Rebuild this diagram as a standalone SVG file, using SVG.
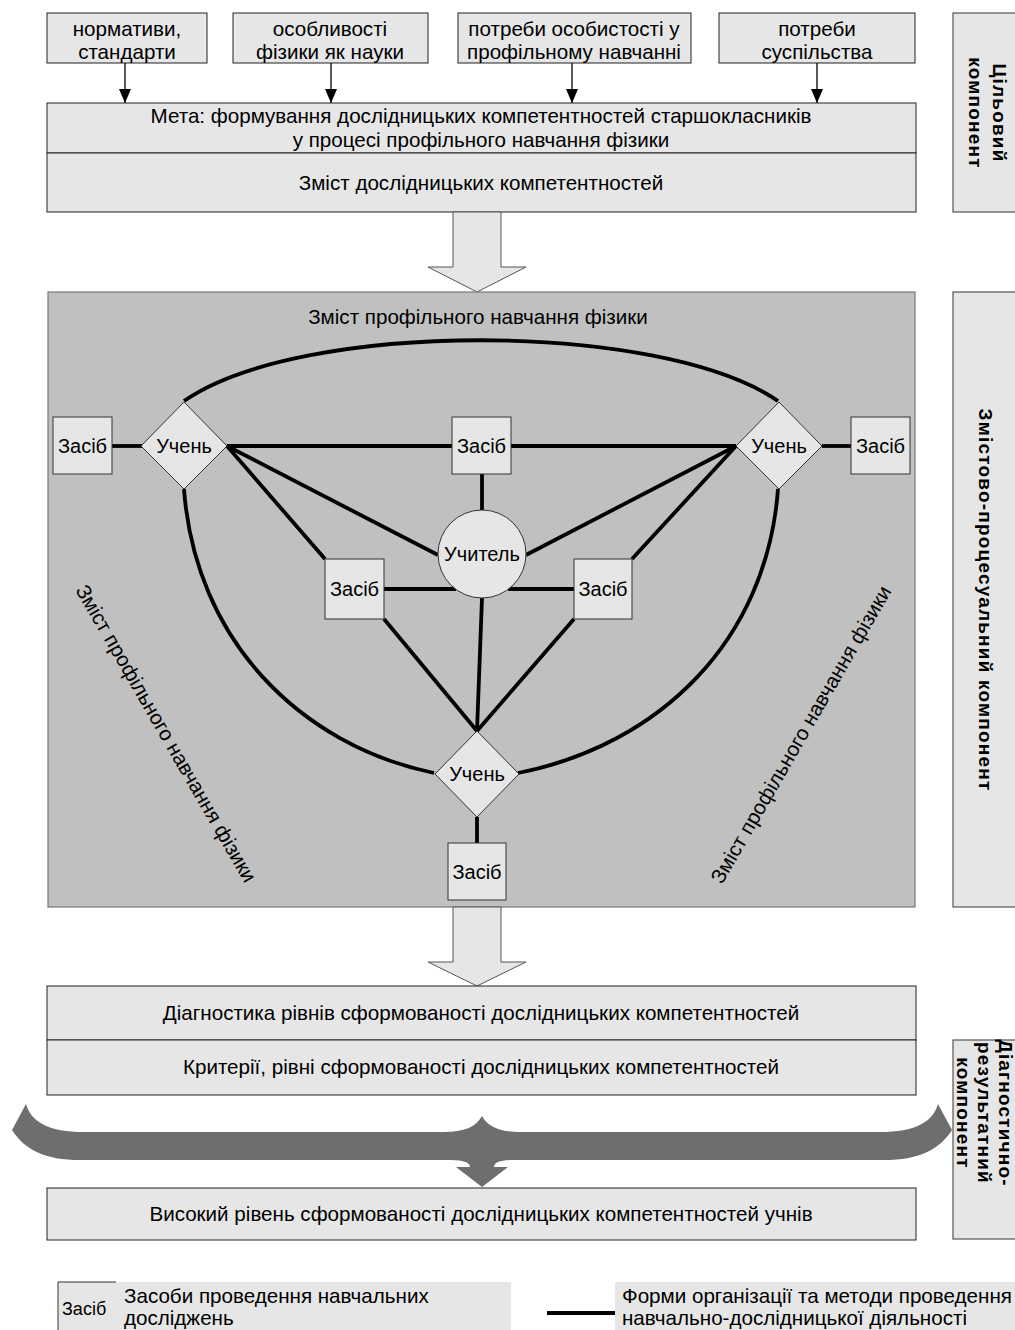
<svg xmlns="http://www.w3.org/2000/svg" width="1015" height="1330" viewBox="0 0 1015 1330">
<style>
text{font-family:"Liberation Sans",Arial,sans-serif;font-size:20.6px;fill:#000}
.c{text-anchor:middle}
.n{font-size:20px}
.box{fill:#e6e6e6;stroke:#222;stroke-width:1}
.lbl{fill:#e6e6e6;stroke:#555;stroke-width:1.2}
.lb{font-weight:bold;font-size:19px;letter-spacing:1.2px;text-anchor:middle}
.node{fill:#e6e6e6;stroke:#333;stroke-width:1}
.e{fill:none;stroke:#000;stroke-width:3.8}
.thin{fill:none;stroke:#000;stroke-width:1.3}
.blk{fill:#e6e6e6;stroke:#555;stroke-width:1}
</style>
<defs>
<marker id="ah" viewBox="0 0 14 12" refX="14" refY="6" markerWidth="14" markerHeight="12" markerUnits="userSpaceOnUse" orient="auto">
<path d="M0,0 L14,6 L0,12 Z" fill="#000"/>
</marker>
</defs>
<rect width="1015" height="1330" fill="#fff"/>

<!-- right side labels -->
<g id="label-goal">
<rect class="lbl" x="953" y="13" width="80" height="199"/>
<text class="lb" transform="translate(993,113) rotate(90)">Цільовий</text>
<text class="lb" transform="translate(969,113) rotate(90)">компонент</text>
</g>
<g id="label-content">
<rect class="lbl" x="953" y="292" width="80" height="615"/>
<text class="lb" transform="translate(979,600) rotate(90)">Змістово-процесуальний компонент</text>
</g>
<g id="label-diag">
<rect class="lbl" x="953" y="1040" width="80" height="199"/>
<text class="lb" transform="translate(999,1113) rotate(90)">Діагностично-</text>
<text class="lb" transform="translate(978,1113) rotate(90)">результатний</text>
<text class="lb" transform="translate(957,1113) rotate(90)">компонент</text>
</g>

<!-- top input boxes -->
<g id="in1"><rect class="box" x="47" y="13" width="160" height="50"/>
<text class="c" x="127" y="36">нормативи,</text><text class="c" x="127" y="59">стандарти</text></g>
<g id="in2"><rect class="box" x="233" y="13" width="195" height="50"/>
<text class="c" x="330" y="36">особливості</text><text class="c" x="330" y="59">фізики як науки</text></g>
<g id="in3"><rect class="box" x="458" y="13" width="233" height="50"/>
<text class="c" x="574" y="36">потреби особистості у</text><text class="c" x="574" y="59">профільному навчанні</text></g>
<g id="in4"><rect class="box" x="719" y="13" width="196" height="50"/>
<text class="c" x="817" y="36">потреби</text><text class="c" x="817" y="59">суспільства</text></g>

<g id="top-arrows">
<line class="thin" x1="125" y1="63" x2="125" y2="103" marker-end="url(#ah)"/>
<line class="thin" x1="331" y1="63" x2="331" y2="103" marker-end="url(#ah)"/>
<line class="thin" x1="572" y1="63" x2="572" y2="103" marker-end="url(#ah)"/>
<line class="thin" x1="817" y1="63" x2="817" y2="103" marker-end="url(#ah)"/>
</g>

<g id="goal">
<rect class="box" x="47" y="103" width="869" height="50"/>
<text class="c" x="481" y="123">Мета: формування дослідницьких компетентностей старшокласників</text>
<text class="c" x="481" y="147">у процесі профільного навчання фізики</text>
<rect class="box" x="47" y="153" width="869" height="59"/>
<text class="c" x="481" y="190">Зміст дослідницьких компетентностей</text>
</g>

<g id="arrow1"><polygon class="blk" points="453,212 501,212 501,267 526,267 477,292 428,267 453,267"/></g>

<!-- central panel -->
<g id="panel">
<rect x="48" y="292" width="867" height="615" fill="#c0c0c0" stroke="#777" stroke-width="1.2"/>
<text class="c" x="478" y="324">Зміст профільного навчання фізики</text>
<text class="c" transform="translate(160,737) rotate(60)">Зміст профільного навчання фізики</text>
<text class="c" transform="translate(807,738) rotate(-60)">Зміст профільного навчання фізики</text>
</g>

<g id="connectors">
<path class="e" d="M184,401 C300,320 660,320 778,401"/>
<path class="e" d="M184,489 C195,640 300,745 434,773"/>
<path class="e" d="M778,489 C767,640 660,745 518,773"/>
<line class="e" x1="112" y1="446" x2="142" y2="446"/>
<line class="e" x1="822" y1="446" x2="851" y2="446"/>
<line class="e" x1="227" y1="446" x2="452" y2="446"/>
<line class="e" x1="511" y1="446" x2="736" y2="446"/>
<line class="e" x1="482" y1="474" x2="482" y2="510"/>
<line class="e" x1="227" y1="446" x2="438" y2="555"/>
<line class="e" x1="227" y1="446" x2="325" y2="559"/>
<line class="e" x1="736" y1="446" x2="526" y2="555"/>
<line class="e" x1="736" y1="446" x2="632" y2="559"/>
<line class="e" x1="384" y1="589" x2="456" y2="589"/>
<line class="e" x1="508" y1="589" x2="574" y2="589"/>
<line class="e" x1="384" y1="619" x2="477" y2="731"/>
<line class="e" x1="482" y1="598" x2="477" y2="731"/>
<line class="e" x1="574" y1="619" x2="477" y2="731"/>
<line class="e" x1="477" y1="817" x2="477" y2="843"/>
</g>

<g id="zasib-left"><rect class="node" x="53" y="417" width="59" height="57"/><text class="c n" x="82.5" y="453">Засіб</text></g>
<g id="uchen-left"><polygon class="node" points="184,402 227,446 184,489 141,446"/><text class="c n" x="184" y="453">Учень</text></g>
<g id="zasib-center"><rect class="node" x="452" y="417" width="59" height="57"/><text class="c n" x="481.5" y="453">Засіб</text></g>
<g id="uchen-right"><polygon class="node" points="779,402 822,446 779,489 736,446"/><text class="c n" x="779" y="453">Учень</text></g>
<g id="zasib-right"><rect class="node" x="851" y="417" width="59" height="57"/><text class="c n" x="880.5" y="453">Засіб</text></g>
<g id="uchytel"><circle class="node" cx="482" cy="554" r="44"/><text class="c n" x="482" y="561">Учитель</text></g>
<g id="zasib-lm"><rect class="node" x="325" y="559" width="59" height="60"/><text class="c n" x="354.5" y="596">Засіб</text></g>
<g id="zasib-rm"><rect class="node" x="574" y="559" width="58" height="60"/><text class="c n" x="603" y="596">Засіб</text></g>
<g id="uchen-bottom"><polygon class="node" points="477,731 519,774 477,817 435,774"/><text class="c n" x="477" y="781">Учень</text></g>
<g id="zasib-bottom"><rect class="node" x="448" y="843" width="58" height="57"/><text class="c n" x="477" y="879">Засіб</text></g>

<g id="arrow2"><polygon class="blk" points="453,907 501,907 501,962 526,962 477,986 428,962 453,962"/></g>

<g id="diagnostics">
<rect class="box" x="47" y="986" width="869" height="54"/>
<text class="c" x="481" y="1020">Діагностика рівнів сформованості дослідницьких компетентностей</text>
<rect class="box" x="47" y="1040" width="869" height="55"/>
<text class="c" x="481" y="1074">Критерії, рівні сформованості дослідницьких компетентностей</text>
</g>

<g id="brace">
<path fill="#6e6e6e" d="M26,1104 L12,1130 C25,1150 45,1160 80,1160 L450,1160 C465,1160 470,1163 470,1167 L456,1167 L482,1187 L508,1167 L494,1167 C494,1163 499,1160 514,1160 L884,1160 C919,1160 939,1150 952,1130 L938,1104 C933,1122 915,1132 880,1132 L520,1132 C500,1132 488,1127 482,1116 C476,1127 464,1132 444,1132 L84,1132 C49,1132 31,1122 26,1104 Z"/>
</g>

<g id="result">
<rect class="box" x="47" y="1188" width="869" height="52"/>
<text class="c" x="481" y="1221">Високий рівень сформованості дослідницьких компетентностей учнів</text>
</g>

<g id="legend">
<rect x="58" y="1282" width="453" height="48" fill="#e6e6e6"/>
<path d="M58,1330 L58,1282 L116,1282" fill="none" stroke="#333" stroke-width="1"/>
<text x="62" y="1315" style="font-size:18px">Засіб</text>
<text x="124" y="1303">Засоби проведення навчальних</text>
<text x="124" y="1325">досліджень</text>
<line x1="547" y1="1313" x2="615" y2="1313" stroke="#000" stroke-width="3.8"/>
<rect x="615" y="1282" width="400" height="48" fill="#e6e6e6"/>
<text x="622" y="1303">Форми організації та методи проведення</text>
<text x="622" y="1325">навчально-дослідницької діяльності</text>
</g>
</svg>
